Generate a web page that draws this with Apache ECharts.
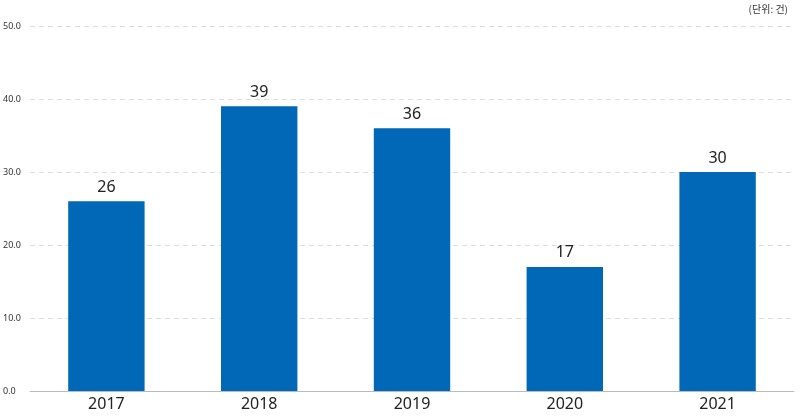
<!DOCTYPE html>
<html><head><meta charset="utf-8">
<script src="https://cdn.jsdelivr.net/npm/echarts@6/dist/echarts.min.js"></script>
<style>html,body{margin:0;padding:0;background:#fff}#c{width:800px;height:417px}</style>
</head><body><div id="c"></div>
<script>
const categories = ['2017','2018','2019','2020','2021'];
const values = [26, 39, 36, 17, 30];
const chart = echarts.init(document.getElementById('c'));
chart.setOption({
  animation: false,
  grid: {left: 26, right: 6, top: 26, bottom: 26},
  graphic: [{type:'text', right: 12, top: 4, style:{text:'(단위: 건)', font:'10px "Noto Sans CJK KR"', fill:'#333'}}],
  xAxis: {type:'category', data: categories,
    axisLine:{lineStyle:{color:'#bbb'}}, axisTick:{show:false},
    axisLabel:{color:'#222', fontSize:16, fontFamily:'Noto Sans', margin:5}},
  yAxis: {type:'value', min:0, max:50, interval:10,
    axisLabel:{color:'#333', fontSize:9, fontFamily:'Noto Sans', formatter: v => v.toFixed(1), margin:4, align:'left', padding:[0,0,0,-23]},
    splitLine:{lineStyle:{type:[5,4], color:'#ddd'}}},
  series: [{type:'bar', data: values, barWidth:'50%', itemStyle:{color:'#0068b7'},
    label:{show:true, position:'top', color:'#222', fontSize:16, fontFamily:'Noto Sans', distance:6}}]
});
</script></body></html>
